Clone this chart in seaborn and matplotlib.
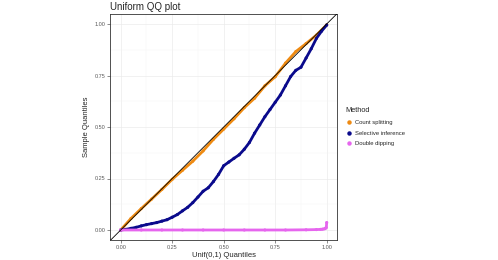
import numpy as np
import pandas as pd
import matplotlib
matplotlib.use("Agg")
import matplotlib.pyplot as plt
import seaborn as sns

# theoretical quantiles and sample quantiles
count_x = [0.0, 0.05, 0.1, 0.15, 0.2, 0.25, 0.3, 0.35, 0.4, 0.45, 0.5,
           0.55, 0.6, 0.65, 0.7, 0.75, 0.8, 0.85, 0.9, 0.95, 1.0]
count_y = [0.0, 0.056, 0.104, 0.150, 0.197, 0.246, 0.290, 0.334, 0.384, 0.440, 0.490,
           0.540, 0.594, 0.640, 0.700, 0.744, 0.810, 0.866, 0.905, 0.946, 0.996]

sel_x = [0.0, 0.025, 0.05, 0.075, 0.1, 0.125, 0.15, 0.175, 0.2, 0.225, 0.25,
         0.275, 0.3, 0.325, 0.35, 0.375, 0.4, 0.425, 0.45, 0.475, 0.5,
         0.525, 0.55, 0.575, 0.6, 0.625, 0.65, 0.675, 0.7, 0.725, 0.75,
         0.775, 0.8, 0.825, 0.85, 0.875, 0.9, 0.925, 0.95, 0.975, 1.0]
sel_y = [0.0, 0.003, 0.008, 0.013, 0.020, 0.026, 0.031, 0.036, 0.043, 0.050, 0.062,
         0.075, 0.093, 0.110, 0.133, 0.160, 0.188, 0.205, 0.235, 0.270, 0.312,
         0.330, 0.348, 0.365, 0.392, 0.425, 0.470, 0.510, 0.550, 0.585, 0.620,
         0.655, 0.700, 0.745, 0.775, 0.790, 0.835, 0.880, 0.930, 0.965, 0.995]

dd_x = [0.0, 0.1, 0.2, 0.3, 0.4, 0.5, 0.6, 0.7, 0.8, 0.9, 0.95, 0.97,
        0.98, 0.99, 0.995, 0.998, 1.0]
dd_y = [0.0, 0.0, 0.0, 0.0, 0.0, 0.0, 0.0, 0.0, 0.0, 0.001, 0.002, 0.003,
        0.004, 0.006, 0.009, 0.012, 0.036]

methods = ["Count splitting", "Selective inference", "Double dipping"]
colors = ["#EE8A12", "#0A0A8C", "#E666EE"]

df = pd.concat([
    pd.DataFrame({"x": count_x, "y": count_y, "Method": methods[0]}),
    pd.DataFrame({"x": sel_x, "y": sel_y, "Method": methods[1]}),
    pd.DataFrame({"x": dd_x, "y": dd_y, "Method": methods[2]}),
])

sns.set_theme(style="white")
plt.rcParams["font.family"] = ["Liberation Sans", "DejaVu Sans"]

fig = plt.figure(figsize=(4.98, 2.6), dpi=100)
ax = fig.add_axes([110.4 / 498, 19.7 / 260, 226.6 / 498, 226.6 / 260])

palette = dict(zip(methods, colors))
for m in methods:
    sub = df[df["Method"] == m]
    sns.lineplot(data=sub, x="x", y="y", color=palette[m], lw=2.0, ax=ax,
                 legend=False, estimator=None, sort=False, zorder=3)
    sns.scatterplot(data=sub, x="x", y="y", color=palette[m], s=5, ax=ax,
                    legend=False, edgecolor="none", zorder=3)

ax.axline((0, 0), (1, 1), color="black", lw=0.6, zorder=4)

ax.set_xlim(-0.05, 1.05)
ax.set_ylim(-0.05, 1.05)
ticks = [0, 0.25, 0.5, 0.75, 1.0]
ax.set_xticks(ticks)
ax.set_yticks(ticks)
ax.set_xticklabels(["0.00", "0.25", "0.50", "0.75", "1.00"])
ax.set_yticklabels(["0.00", "0.25", "0.50", "0.75", "1.00"])
ax.set_xticks([0.125, 0.375, 0.625, 0.875], minor=True)
ax.set_yticks([0.125, 0.375, 0.625, 0.875], minor=True)
ax.grid(True, which="major", color="#EBEBEB", lw=0.5, zorder=0)
ax.grid(True, which="minor", color="#F4F4F4", lw=0.3, zorder=0)
ax.set_axisbelow(True)
ax.tick_params(axis="both", which="major", length=2, width=0.4, color="#333333",
               labelsize=4, labelcolor="#5A5A5A", pad=1.5, bottom=True, left=True)
ax.tick_params(axis="both", which="minor", length=0)
for s in ax.spines.values():
    s.set_color("#333333")
    s.set_linewidth(0.6)

ax.set_xlabel("Unif(0,1) Quantiles", fontsize=5.5, labelpad=1.5)
ax.set_ylabel("Sample Quantiles", fontsize=5.5, labelpad=3)
ax.set_title("Uniform QQ plot", fontsize=7, loc="left", pad=2.5)

handles = [plt.Line2D([], [], marker="o", ls="", color=c, markersize=2.2) for c in colors]
leg = fig.legend(handles, methods, title="Method", loc="upper left",
                 bbox_to_anchor=(343 / 498, 1 - 105 / 260), frameon=False,
                 fontsize=4.2, title_fontsize=5.3, handletextpad=0.5,
                 labelspacing=0.95, handlelength=1.2, borderaxespad=0)
leg._legend_box.align = "left"

fig.savefig("out.png", dpi=100)
